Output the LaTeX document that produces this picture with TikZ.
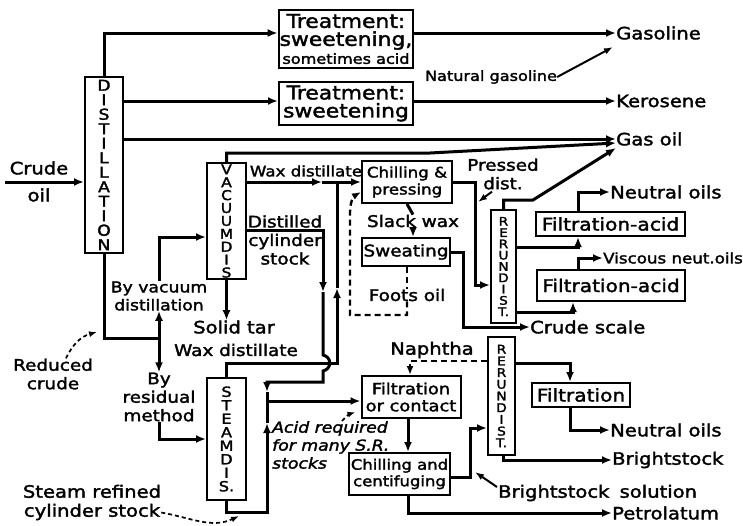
\documentclass[tikz,border=0pt]{standalone}
\usepackage{fontspec}
\setmainfont[FakeStretch=1.15,UprightFeatures={FakeBold=2},ItalicFeatures={FakeBold=2}]{DejaVu Sans}
\usetikzlibrary{arrows.meta}
\newcommand{\fsz}[2]{\fontsize{#1}{#2}\selectfont}

\begin{document}
\begin{tikzpicture}[x=1pt,y=-1pt,
  pipe/.style={line width=3pt},
  arr/.style={-{Latex[length=10pt,width=8pt]}},
  tarr/.style={line width=2pt,-{Latex[length=9pt,width=6.5pt]}},
  recyc/.style={line width=2.4pt,dash pattern=on 6pt off 4pt},
  tdash/.style={line width=1.7pt,dash pattern=on 4pt off 3pt,-{Latex[length=8pt,width=6pt]}},
  unit/.style={draw,line width=2pt,inner sep=1pt,align=center,font=\fsz{16}{17}},
  still/.style={draw,line width=2pt,inner sep=0pt,align=center},
  lbl/.style={anchor=west,inner sep=0pt,font=\fsz{17}{19}},
  note/.style={inner sep=0pt,align=center,font=\fsz{16}{18.5}}]
  \useasboundingbox (0,0) rectangle (743,525);

  % stills
  \node[still,minimum width=38pt,minimum height=176pt,font=\fsz{15}{14.5}] (dist) at (104,165)
    {D\\I\\S\\T\\I\\L\\L\\A\\T\\I\\O\\N};
  \node[still,minimum width=39pt,minimum height=116pt,font=\fsz{13.5}{12.9}] (vac) at (226.5,221)
    {V\\A\\C\\U\\U\\M\\D\\I\\S};
  \node[still,minimum width=39pt,minimum height=122pt,font=\fsz{14}{13.5}] (steam) at (226.5,439)
    {S\\T\\E\\A\\M\\D\\I\\S.};
  \node[still,minimum width=25pt,minimum height=113pt,font=\fsz{11.8}{11.3}] (rerunA) at (503.5,266.5)
    {R\\E\\R\\U\\N\\D\\I\\S\\T.};
  \node[still,minimum width=27pt,minimum height=118pt,font=\fsz{12}{11.7}] (rerunB) at (501.5,396)
    {R\\E\\R\\U\\N\\D\\I\\S\\T.};

  % treating units
  \node[unit,minimum width=134pt,minimum height=58pt,font=\fsz{19}{18}] (treatA) at (346,39)
    {Treatment:\\sweetening,\\{\fsz{14}{16}sometimes acid}};
  \node[unit,minimum width=134pt,minimum height=43pt,font=\fsz{19}{18}] (treatB) at (346,103.5)
    {Treatment:\\sweetening};
  \node[unit,minimum width=90pt,minimum height=42pt,font=\fsz{14.5}{17}] (chill) at (407,182)
    {Chilling \&\\pressing};
  \node[unit,minimum width=88pt,minimum height=28pt] (sweat) at (406,252) {Sweating};
  \node[unit,minimum width=149pt,minimum height=24pt,font=\fsz{17.5}{18}] (facidA) at (610.5,224) {Filtration-acid};
  \node[unit,minimum width=148pt,minimum height=31pt,font=\fsz{17.5}{18}] (facidB) at (611,285.5) {Filtration-acid};
  \node[unit,minimum width=99pt,minimum height=42pt,font=\fsz{15.5}{17}] (filtc) at (411,397)
    {Filtration\\or contact};
  \node[unit,minimum width=101pt,minimum height=42pt,font=\fsz{14.3}{16.5}] (centr) at (399.5,474)
    {Chilling and\\centifuging};
  \node[unit,minimum width=98pt,minimum height=24pt,font=\fsz{17.5}{18}] (filt) at (581,395) {Filtration};

  % products
  \node[lbl] (gasol) at (616,33) {Gasoline};
  \node[lbl] (keros) at (616,101) {Kerosene};
  \node[lbl] (gasoil) at (616,139) {Gas oil};
  \node[lbl] (neutA) at (610,192) {Neutral oils};
  \node[lbl,font=\fsz{14.5}{16}] (visc) at (603,258) {Viscous neut.oils};
  \node[lbl] (cscale) at (530,327) {Crude scale};
  \node[lbl] (neutB) at (610,430) {Neutral oils};
  \node[lbl] (bright) at (612,460) {Brightstock};
  \node[lbl] (brsol) at (498,493) {Brightstock\hspace{0.6em}solution};
  \node[lbl] (petrol) at (612,513) {Petrolatum};

  % stream notes
  \node[note,font=\fsz{14}{16}] (natg) at (491,77) {Natural gasoline};
  \node[note,font=\fsz{17}{27}] (crude) at (39,181.5) {Crude\\oil};
  \node[note,font=\fsz{15}{18}] (byvac) at (159,296) {By vacuum\\distillation};
  \node[note,font=\fsz{14.5}{16}] (waxA) at (306,171) {Wax distillate};
  \node[note] (cylst) at (285,240) {Distilled\\cylinder\\stock};
  \node[note,font=\fsz{17}{18}] (soltar) at (234,327) {Solid tar};
  \node[note] (waxB) at (236,350) {Wax distillate};
  \node[note] (redc) at (53,374) {Reduced\\crude};
  \node[note] (byres) at (159,397) {By\\residual\\method};
  \node[note,font=\fsz{17}{19}] (stref) at (92,502.5) {Steam refined\\cylinder stock};
  \node[note,font=\itshape\fsz{15}{18},anchor=west,align=left] (acid) at (272,445)
    {Acid required\\for many S.R.\\stocks};
  \node[note] (slack) at (413,221) {Slack wax};
  \node[note] (foots) at (407,295) {Foots oil};
  \node[note] (pressed) at (503,174) {Pressed\\dist.};
  \node[note,font=\fsz{17}{18}] (naph) at (432,350) {Naphtha};

  \coordinate (crudein) at (5,182);
  \coordinate (jred) at (159,338);
  \coordinate (vacbend) at (430,153);
  \coordinate (rrbend) at (533,200);
  \coordinate (wxmid) at (322,182);
  \coordinate (wxup) at (337,288);
  \coordinate (wxcorner) at (337,363);
  \coordinate (cyldown) at (323,292);
  \coordinate (cylturn) at (267,382);
  \coordinate (cyltip) at (267,392);
  \coordinate (jcyl) at (267,401);
  \coordinate (stbot) at (267,512);
  \coordinate (stup) at (267,423);
  \coordinate (fcorner) at (350,315);
  \coordinate (frise) at (350,212);
  \coordinate (pdrun) at (475,240);
  \coordinate (pdtip) at (478,202);
  \coordinate (swrun) at (463,300);
  \coordinate (bsrun) at (470,450);
  \coordinate (bstip) at (475,472);
  \coordinate (redtip) at (97,332);
  \coordinate (sttip) at (239,516);

  % crude distillation
  \draw[pipe,arr] (crudein) -- (crudein -| dist.west);
  \draw[pipe,arr] (dist.north) |- ([yshift=6pt]treatA.west);
  \draw[pipe,arr] ([yshift=6pt]treatA.east) -- (gasol.west);
  \draw[pipe,arr] (dist.east |- keros.west) -- (treatB.west |- keros.west);
  \draw[pipe,arr] (treatB.east |- keros.west) -- (keros.west);
  \draw[pipe,arr] (dist.east |- gasoil.west) -- (gasoil.west);
  \draw[pipe,arr] (vac.north) |- (vacbend) -- ([yshift=-4pt]gasoil.west);
  \draw[pipe,arr] (rerunA.north) |- (rrbend) -- ([yshift=-9pt]gasoil.west);
  \draw[tarr] (natg.east) -- ([xshift=-3pt,yshift=-14pt]gasol.west);

  % reduced crude
  \draw[pipe] (dist.south) |- (jred);
  \draw[pipe,arr] (jred) -- (byvac.south);
  \draw[pipe,arr] (byvac.north) |- ([yshift=-16pt]vac.west);
  \draw[pipe,arr] (jred) -- (byres.north);
  \draw[pipe,arr] (byres.south) |- (steam.west);
  \draw[tdash] ([xshift=13pt]redc.north) to[bend left=25] (redtip);

  % vacuum and steam stills
  \draw[pipe,arr] (vac.south) -- (vac.south |- soltar.north);
  \draw[pipe,arr] (vac.east |- chill.west) -- (wxmid);
  \draw[pipe,arr] (wxmid) -- (chill.west);
  \draw[pipe,arr] ([yshift=-9pt]vac.east) -| (cyldown);
  \draw[pipe,arr] (cyldown) -- (323,355) .. controls (332,357) and (332,369) .. (323,371)
    |- (cylturn) -- (cyltip);
  \draw[pipe] (cyltip) -- (jcyl);
  \draw[pipe,arr] (steam.north) |- (wxcorner) -- (wxup);
  \draw[pipe] (wxup) -- (wxup |- wxmid);
  \draw[pipe,arr] (steam.south) |- (stbot) -- (stup);
  \draw[pipe] (stup) -- (jcyl);
  \draw[pipe,arr] (jcyl) -- (jcyl -| filtc.west);
  \draw[tdash] ([yshift=-10pt]stref.east) to[out=-10,in=205] (sttip);
  \draw[tdash] ([xshift=70pt]acid.north west) to[bend left=15] ([xshift=-5pt,yshift=7pt]filtc.south west);

  % wax side
  \draw[pipe] (chill.south) -- (slack.north);
  \draw[pipe,arr] (slack.south) -- (slack.south |- sweat.north);
  \draw[recyc] (sweat.south -| foots) -- (foots.north);
  \draw[recyc,-{Latex[length=9pt,width=7pt]}] (foots.south) |- (fcorner) -- (frise)
    to[out=90,in=210] ([yshift=-10pt]chill.west);
  \draw[pipe,arr] (chill.east) -| (pdrun) |- ([yshift=-18.5pt]rerunA.west);
  \draw[tarr] ([xshift=-11pt,yshift=-2pt]pressed.south) -- (pdtip);
  \draw[pipe,arr] (sweat.east) -| (swrun) |- (cscale.west);
  \draw[pipe,arr] ([yshift=19.5pt]rerunA.east) -| ([xshift=-32.5pt]facidA.south);
  \draw[pipe,arr] ([xshift=-32.5pt]facidA.north) |- (neutA.west);
  \draw[pipe,arr] ([yshift=-45.5pt]rerunA.east) -| ([xshift=-38pt]facidB.south);
  \draw[pipe,arr] ([xshift=-33pt]facidB.north) |- (visc.west);

  % cylinder stock side
  \draw[recyc,-{Latex[length=9pt,width=7pt]}] ([yshift=35pt]rerunB.west) -| ([xshift=-1pt]filtc.north);
  \draw[pipe,arr] ([xshift=-3pt]filtc.south) -- ([xshift=-3pt]filtc.south |- centr.north);
  \draw[pipe,arr] ([yshift=-3pt]centr.east) -| (bsrun) |- ([yshift=-32pt]rerunB.west);
  \draw[tarr] ([xshift=-1pt,yshift=6pt]brsol.west) -- (bstip);
  \draw[pipe,arr] ([xshift=8.5pt]centr.south) |- (petrol.west);
  \draw[pipe,arr] ([yshift=33pt]rerunB.east) -| ([xshift=-11pt]filt.north);
  \draw[pipe,arr] ([xshift=-11pt]filt.south) |- (neutB.west);
  \draw[pipe,arr] ([xshift=1.5pt]rerunB.south) |- (bright.west);
\end{tikzpicture}
\end{document}
